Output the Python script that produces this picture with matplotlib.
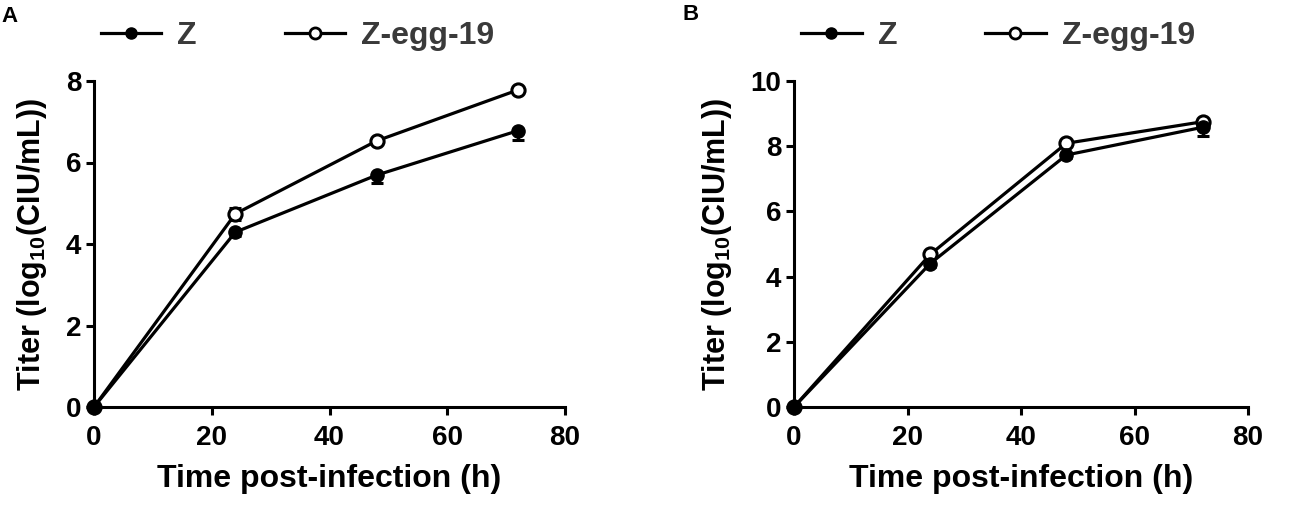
import matplotlib.pyplot as plt
from matplotlib.lines import Line2D

plt.rcParams['font.family'] = ['Liberation Sans', 'DejaVu Sans']
plt.rcParams['font.weight'] = 'bold'
plt.rcParams['mathtext.fontset'] = 'custom'
plt.rcParams['mathtext.bf'] = 'Liberation Sans:bold'
plt.rcParams['mathtext.rm'] = 'Liberation Sans:bold'
plt.rcParams['mathtext.default'] = 'bf'

hours = [0, 24, 48, 72]

# panel A (Z bars drawn below, Z-egg-19 both ways)
a_z = [0, 4.29, 5.69, 6.78]
a_z_err = [0, 0.1, 0.2, 0.24]
a_egg = [0, 4.74, 6.53, 7.78]
a_egg_err = [0, 0.15, 0.05, 0.05]

# panel B
b_z = [0, 4.4, 7.73, 8.58]
b_z_err = [0, 0.1, 0.1, 0.27]
b_egg = [0, 4.68, 8.09, 8.75]
b_egg_err = [0, 0.05, 0.05, 0.05]

x_ticks = [0, 20, 40, 60, 80]

fig = plt.figure(figsize=(13.08, 5.12), dpi=100)
ax_a = fig.add_axes([94 / 1308, 1 - 407 / 512, 471 / 1308, 326 / 512])
ax_b = fig.add_axes([794 / 1308, 1 - 407 / 512, 454 / 1308, 326 / 512])


def draw_panel(ax, z, z_err, egg, egg_err, ymax, yticks):
    lw = 2.3
    ax.errorbar(hours, egg, yerr=egg_err, color='black', lw=lw, marker='o',
                ms=9.5, mfc='white', mec='black', mew=2.2, capsize=4.5,
                capthick=2.2, elinewidth=2.2, clip_on=False, zorder=3)
    ax.errorbar(hours, z, yerr=[z_err, [0] * len(z_err)], color='black', lw=lw,
                marker='o', ms=9.5, mfc='black', mec='black', capsize=4.5,
                capthick=2.2, elinewidth=2.2, clip_on=False, zorder=4)
    ax.set_xlim(0, 80)
    ax.set_ylim(0, ymax)
    ax.set_xticks(x_ticks)
    ax.set_yticks(yticks)
    for s in ['top', 'right']:
        ax.spines[s].set_visible(False)
    for s in ['left', 'bottom']:
        ax.spines[s].set_linewidth(2.2)
    ax.tick_params(width=2.2, length=6, labelsize=20)
    ax.tick_params(axis='x', pad=7)
    ax.tick_params(axis='y', pad=3)
    for lab in ax.get_xticklabels() + ax.get_yticklabels():
        lab.set_fontweight('bold')
    ax.set_xlabel('Time post-infection (h)', fontsize=23, fontweight='bold',
                  labelpad=9)
    ax.set_ylabel('Titer (log$_{10}$(CIU/mL))', fontsize=22,
                  fontweight='bold', labelpad=12)

    handles = [
        Line2D([], [], color='black', lw=2.3, marker='o', ms=8, mfc='black'),
        Line2D([], [], color='black', lw=2.3, marker='o', ms=8, mfc='white', mew=2),
    ]
    leg = ax.legend(handles, ['Z', 'Z-egg-19'], ncol=2, frameon=False,
                    loc='center left', bbox_to_anchor=(-0.013, 1.138),
                    handlelength=1.9, handletextpad=0.5, columnspacing=2.75,
                    borderaxespad=0, prop={'size': 23, 'weight': 'bold'})
    for t in leg.get_texts():
        t.set_color('#3a3a3a')


draw_panel(ax_a, a_z, a_z_err, a_egg, a_egg_err, 8, [0, 2, 4, 6, 8])
draw_panel(ax_b, b_z, b_z_err, b_egg, b_egg_err, 10, [0, 2, 4, 6, 8, 10])

fig.text(1 / 1308, 1 - 16 / 512, 'A', fontsize=16, fontweight='bold', va='center')
fig.text(682 / 1308, 1 - 15 / 512, 'B', fontsize=16, fontweight='bold', va='center')

fig.savefig('out.png', dpi=100)
